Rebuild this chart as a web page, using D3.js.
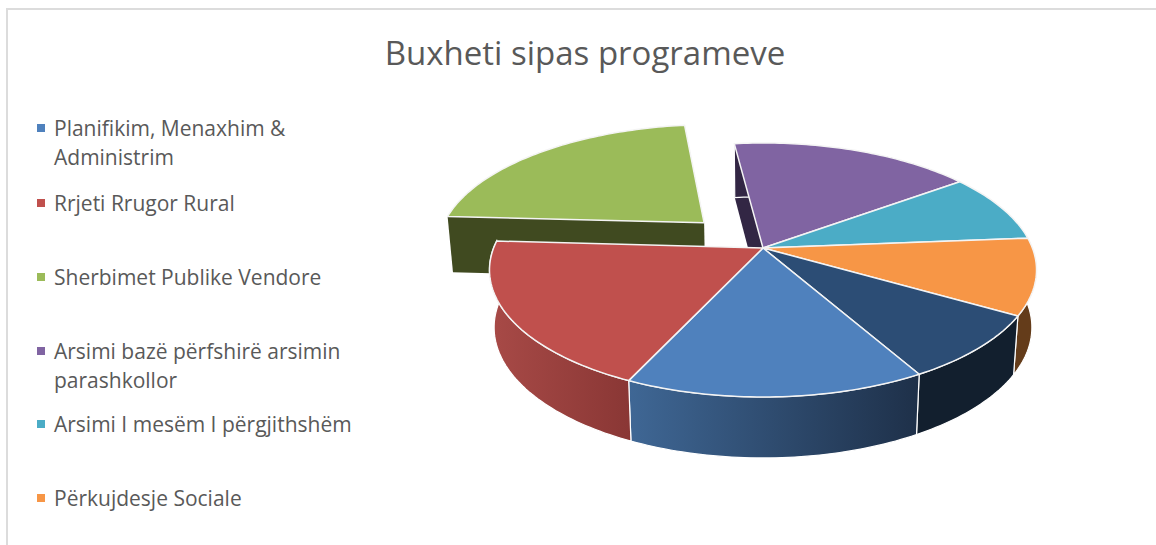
<!DOCTYPE html>
<html>
<head>
<meta charset="utf-8">
<script src="https://d3js.org/d3.v7.min.js"></script>
<style>
html,body{margin:0;padding:0;background:#fff;overflow:hidden}
svg{display:block}
text{font-family:"Open Sans",sans-serif;fill:#595959}
</style>
</head>
<body>
<svg id="c" width="1156" height="545"></svg>
<script>
const title = "Buxheti sipas programeve";
const legendLines = [
  ["Planifikim, Menaxhim &", "Administrim"],
  ["Rrjeti Rrugor Rural"],
  ["Sherbimet Publike Vendore"],
  ["Arsimi bazë përfshirë arsimin", "parashkollor"],
  ["Arsimi I mesëm I përgjithshëm"],
  ["Përkujdesje Sociale"]
];
const values = [15.1, 19.0, 22.1, 16.9, 8.8, 9.7, 8.4];
const explode = [0, 0, 0.31, 0, 0, 0, 0];
const topColors = ["#4f81bd", "#c0504d", "#9bbb59", "#8064a2", "#4bacc6", "#f79646", "#2c4d75"];
const wallLeft  = ["#3f6795", "#a84a47", "#404a20", "#322644", "#2a6272", "#643c1a", "#121f2e"];
const wallRight = ["#1e3049", "#8a3735", "#404a20", "#322644", "#2a6272", "#643c1a", "#121f2e"];
const legendY = [128, 203, 277, 351, 424, 498];

const svg = d3.select("#c");
const cx = 763, cy = 248, A = 269.4, B = 123.2, K = 0.173;
const sx = d3.scaleLinear().domain([-1, 1]).range([cx - A, cx + A]);
const sy = d3.scaleLinear().domain([-1, 1]).range([cy - B, cy + B]);
const bx = d3.scaleLinear().domain([cx - 100, cx + 100]).range([cx - 98.3, cx + 98.3]);
const by = d3.scaleLinear().domain([cy, cy + 100]).range([cy + 56.8, cy + 159.6]);

// slice angles from the data
const pie = d3.pie().sort(null).startAngle(150.5 * Math.PI / 180).endAngle((150.5 + 360) * Math.PI / 180);
const arcs = pie(values);

// plane point -> screen, with perspective
function project(u, v) {
  const w = 1 - K * v;
  return [sx(u / w), sy(v / w)];
}
function planePoint(d, i, a, r) {
  const mid = (d.startAngle + d.endAngle) / 2;
  const e = explode[i];
  return [e * Math.sin(mid) + r * Math.sin(a), -e * Math.cos(mid) - r * Math.cos(a)];
}
function rimAngles(d) {
  const n = Math.max(2, Math.ceil((d.endAngle - d.startAngle) / 0.02));
  return d3.range(n + 1).map(k => d.startAngle + (d.endAngle - d.startAngle) * k / n);
}
const line = d3.line();
function topPts(d, i) {
  const p = planePoint(d, i, 0, 0);
  return [project(p[0], p[1])].concat(rimAngles(d).map(a => {
    const q = planePoint(d, i, a, 1);
    return project(q[0], q[1]);
  }));
}
const down = p => [bx(p[0]), by(p[1])];

// gradients for the outer walls
const defs = svg.append("defs");
arcs.forEach((d, i) => {
  const pts = topPts(d, i).slice(1);
  const ext = d3.extent(pts, p => p[0]);
  const g = defs.append("linearGradient").attr("id", "w" + i)
    .attr("gradientUnits", "userSpaceOnUse")
    .attr("x1", ext[0]).attr("x2", ext[1]).attr("y1", 0).attr("y2", 0);
  g.append("stop").attr("offset", 0).attr("stop-color", wallLeft[i]);
  g.append("stop").attr("offset", 1).attr("stop-color", wallRight[i]);
});

function drawRimWall(d, i) {
  const pts = topPts(d, i).slice(1);
  const poly = pts.concat(pts.map(down).reverse());
  svg.append("path").attr("d", line(poly) + "Z")
    .attr("fill", `url(#w${i})`).attr("stroke", "#fff").attr("stroke-width", 1.2);
}
function drawRadialWall(d, i) {
  const pts = topPts(d, i);
  const poly = [pts[0], pts[1], down(pts[1]), down(pts[0])];
  svg.append("path").attr("d", line(poly) + "Z").attr("fill", wallLeft[i]);
}
function drawTop(d, i) {
  svg.append("path").attr("d", line(topPts(d, i)) + "Z")
    .attr("fill", topColors[i]).attr("stroke", "#f4f4f4").attr("stroke-width", 1.5)
    .attr("stroke-linejoin", "round");
}

// frame
svg.append("path").attr("d", "M7,545V9H1156").attr("fill", "none").attr("stroke", "#dcdcdc").attr("stroke-width", 2);

// back exploded slice, then the purple side face, then the main body
const paint = [2];
paint.forEach(i => { drawRimWall(arcs[i], i); drawRadialWall(arcs[i], i); drawTop(arcs[i], i); });
drawRadialWall(arcs[3], 3);
[3, 4, 5, 6, 0, 1].forEach(i => drawRimWall(arcs[i], i));
[3, 4, 5, 6, 0, 1].forEach(i => drawTop(arcs[i], i));

// title
svg.append("text").attr("x", 585).attr("y", 65).attr("text-anchor", "middle")
  .attr("font-size", 33).text(title);

// legend
legendLines.forEach((lines, i) => {
  svg.append("rect").attr("x", 37).attr("y", legendY[i] - 4).attr("width", 8).attr("height", 8)
    .attr("fill", topColors[i]);
  lines.forEach((t, k) => {
    svg.append("text").attr("x", 54).attr("y", legendY[i] + k * 29 + 7.5)
      .attr("font-size", 21).text(t);
  });
});
</script>
</body>
</html>
